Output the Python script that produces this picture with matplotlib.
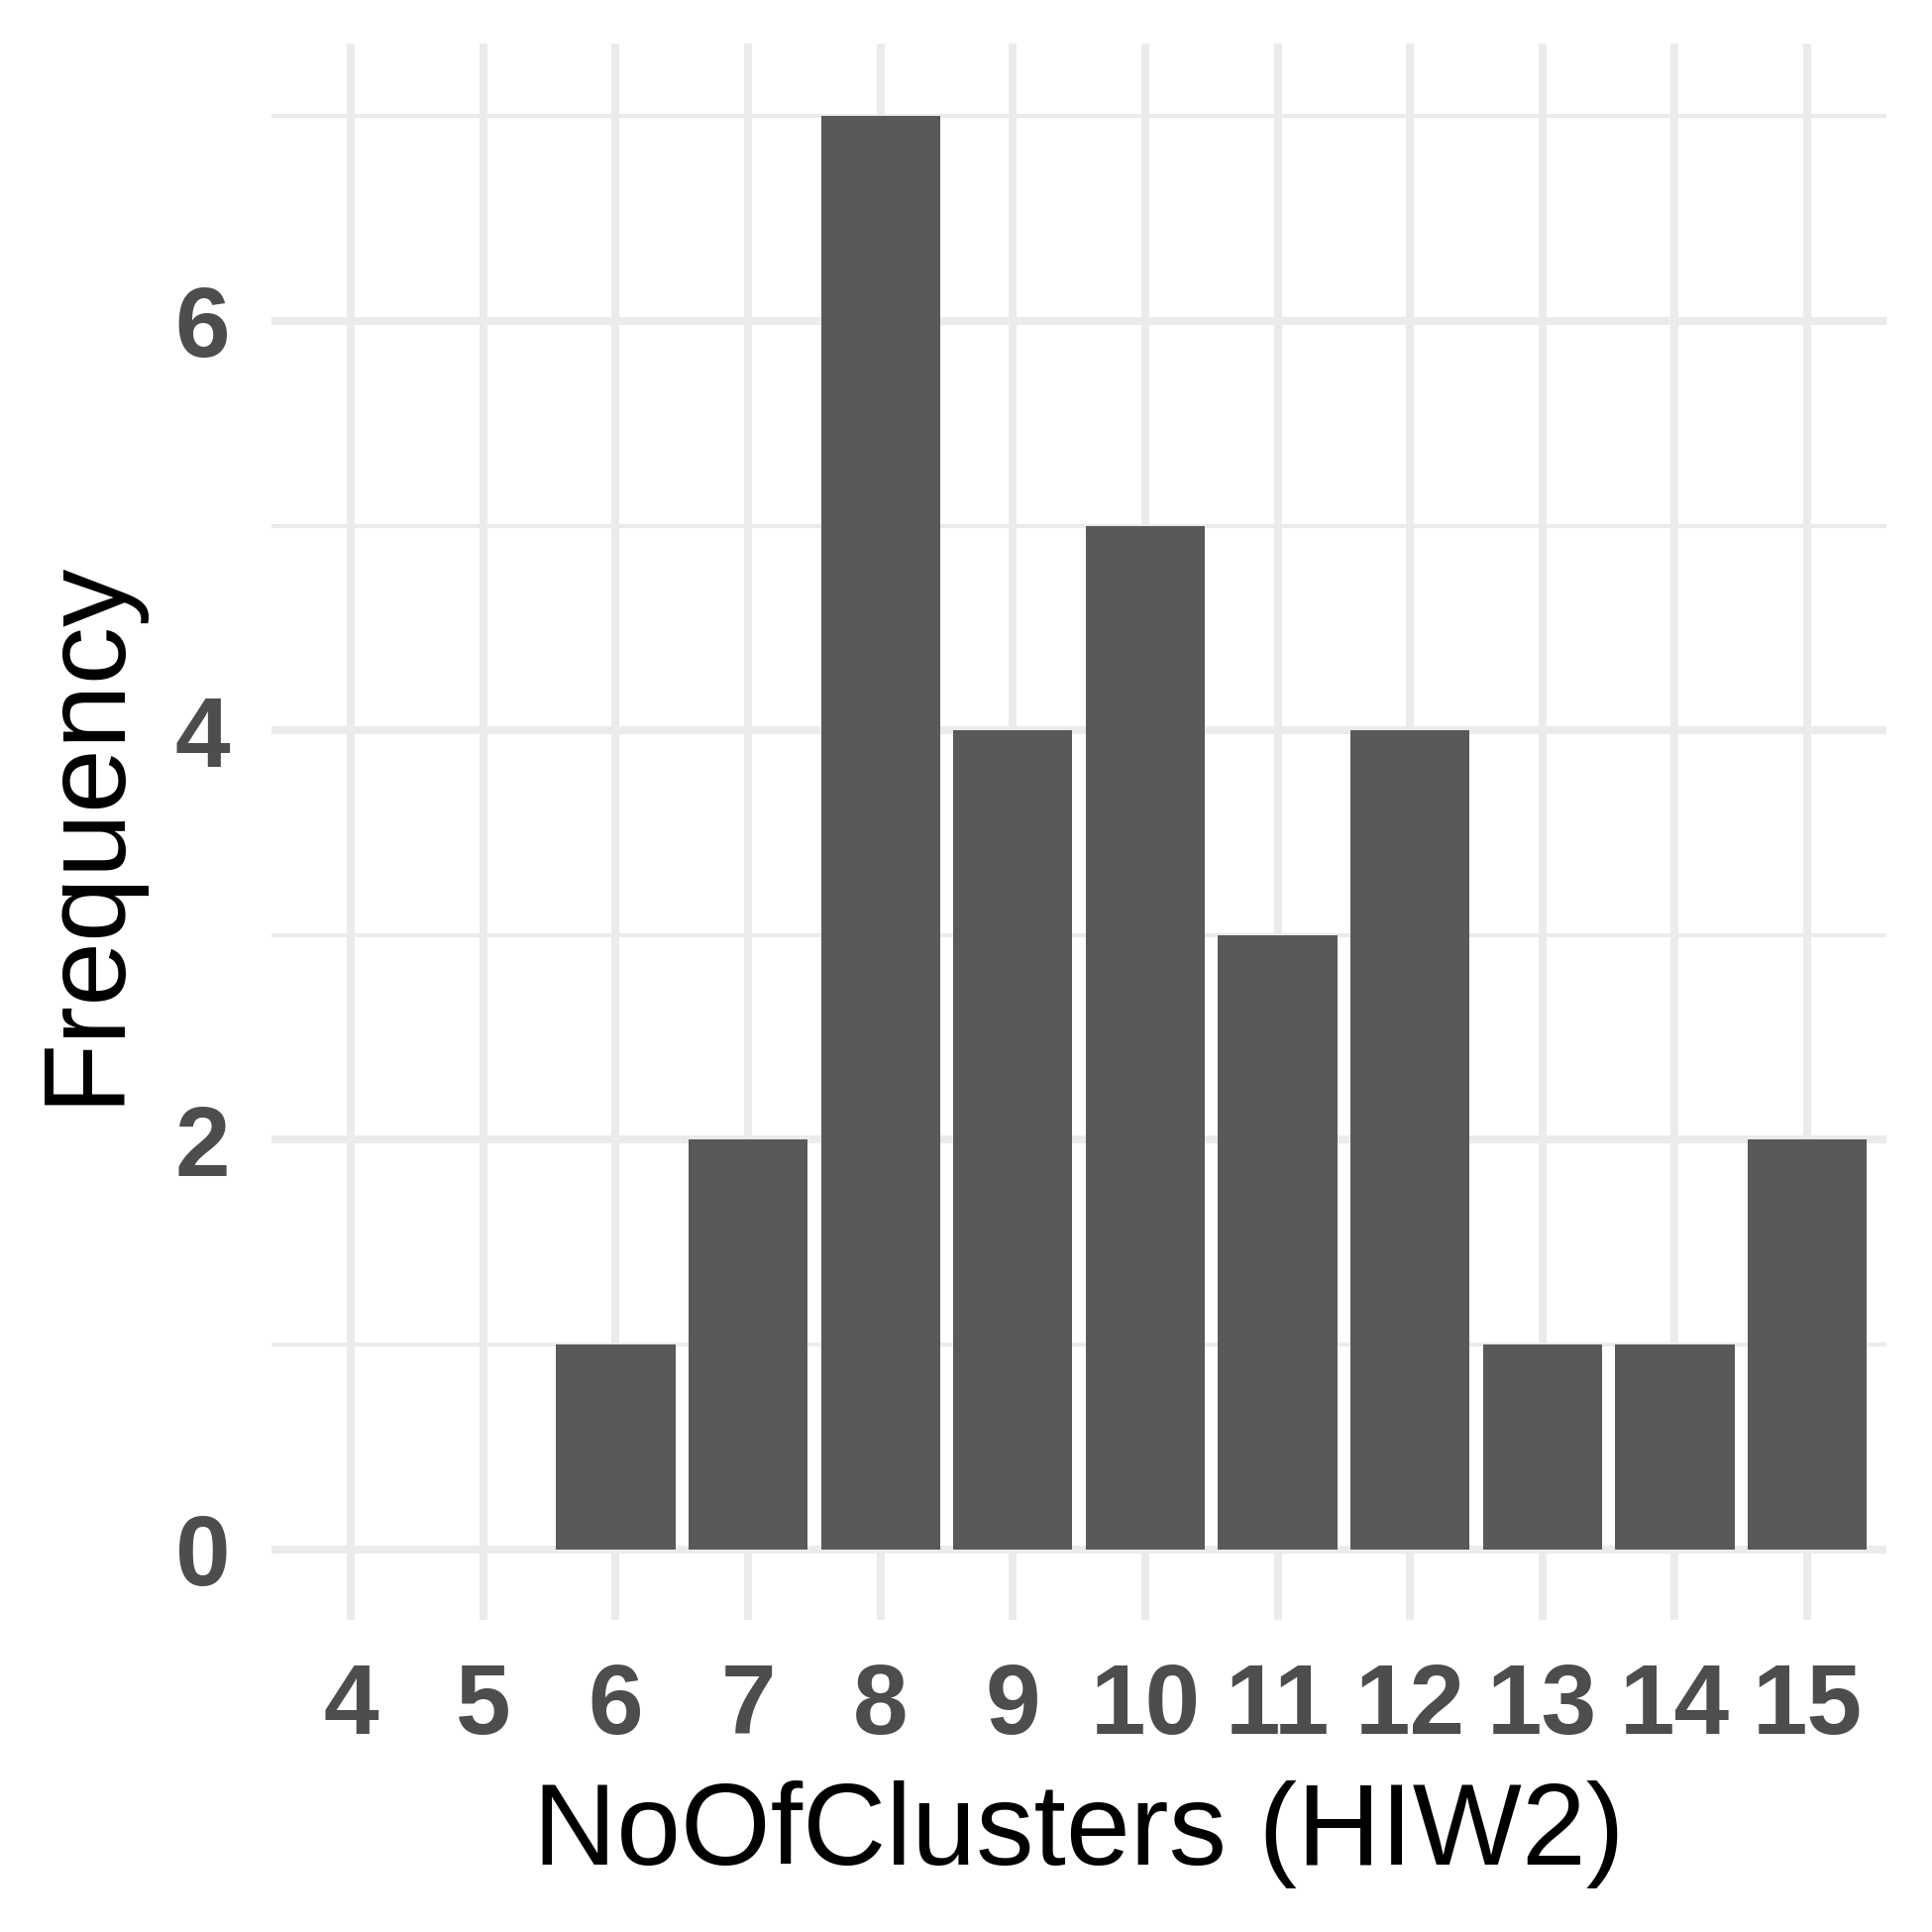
import matplotlib
matplotlib.use("Agg")
import matplotlib.pyplot as plt
from matplotlib.ticker import MultipleLocator

clusters = [4, 5, 6, 7, 8, 9, 10, 11, 12, 13, 14, 15]
frequency = [0, 0, 1, 2, 7, 4, 5, 3, 4, 1, 1, 2]
x_ticks = [4, 5, 6, 7, 8, 9, 10, 11, 12, 13, 14, 15]
y_ticks = [0, 2, 4, 6]

plt.rcParams['font.family'] = ['Liberation Sans', 'DejaVu Sans']

fig = plt.figure(figsize=(6.5, 6.5), dpi=300)
ax = fig.add_axes([0.1405, 0.1615, 0.836, 0.8160])

ax.bar(clusters, frequency, width=0.9, color='#595959', zorder=3)

ax.set_xlim(3.4, 15.6)
ax.set_ylim(-0.345, 7.355)
ax.set_xticks(x_ticks)
ax.set_yticks(y_ticks)
ax.yaxis.set_minor_locator(MultipleLocator(1))

ax.grid(True, which='major', axis='both', color='#EBEBEB', linewidth=1.9, zorder=0)
ax.grid(True, which='minor', axis='y', color='#EBEBEB', linewidth=0.95, zorder=0)
ax.set_axisbelow(True)

for s in ax.spines.values():
    s.set_visible(False)

ax.tick_params(axis='both', which='both', length=0)
ax.tick_params(axis='x', pad=10)
ax.tick_params(axis='y', pad=10)
for lab in ax.get_xticklabels() + ax.get_yticklabels():
    lab.set_fontsize(24)
    lab.set_fontweight('bold')
    lab.set_color('#4D4D4D')

ax.set_xlabel('NoOfClusters (HIW2)', fontsize=28, color='black', labelpad=6.3)
ax.set_ylabel('Frequency', fontsize=28, color='black', labelpad=8.5)

fig.savefig('out.png', dpi=300, facecolor='white')
